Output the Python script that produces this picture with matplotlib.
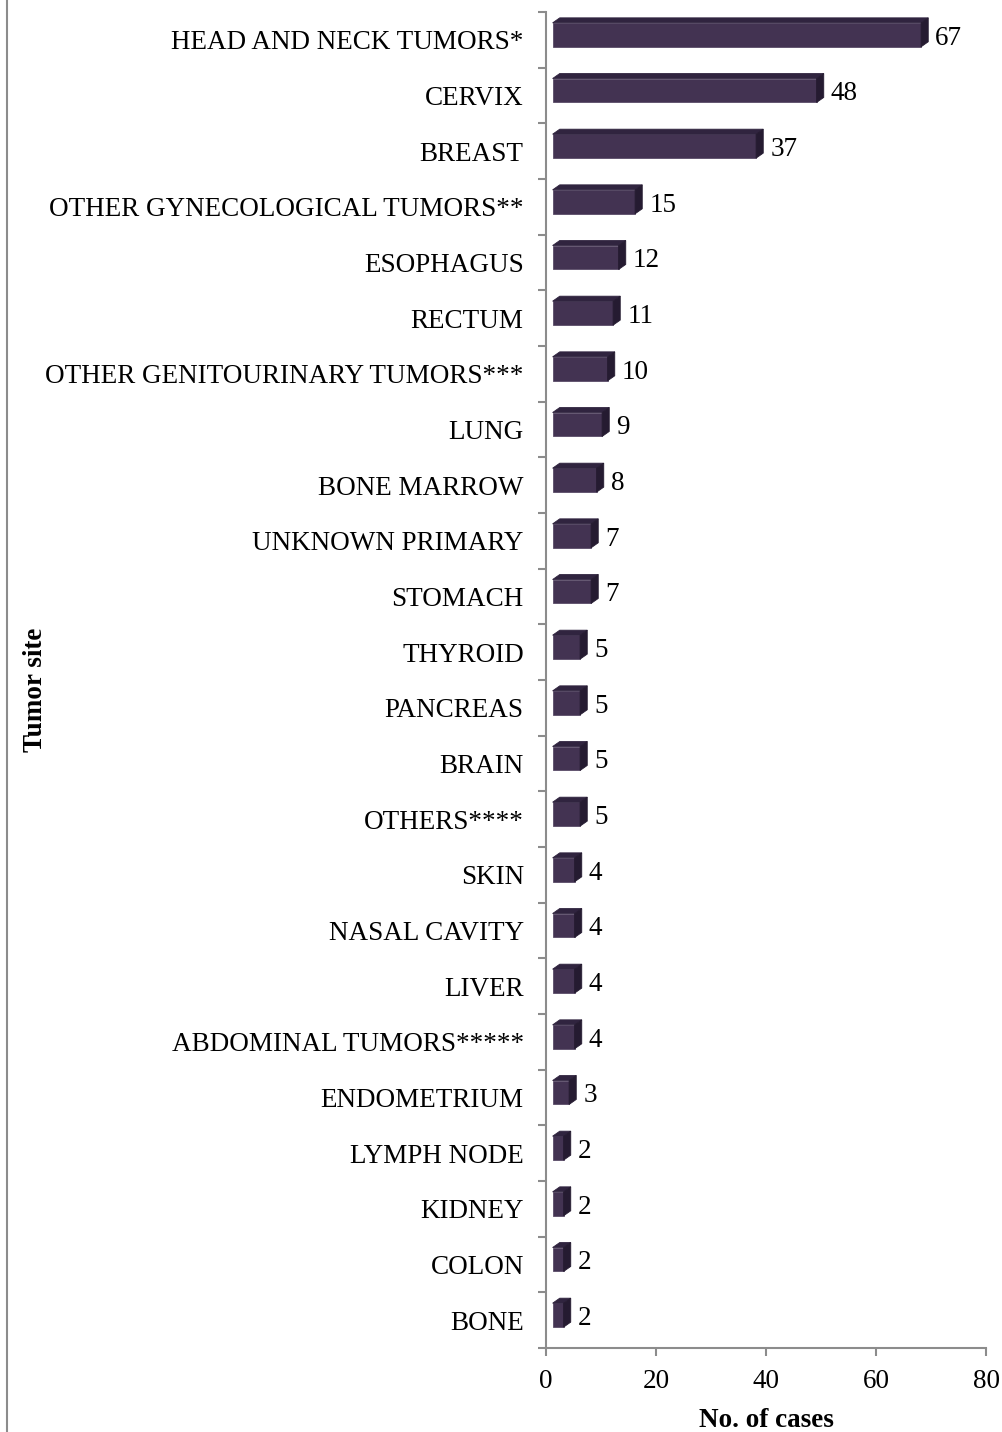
import matplotlib.pyplot as plt
from matplotlib.patches import Polygon
from matplotlib.lines import Line2D

plt.rcParams['font.family'] = ['Liberation Serif', 'DejaVu Serif']

# datos
sitios = ['HEAD AND NECK TUMORS*', 'CERVIX', 'BREAST', 'OTHER GYNECOLOGICAL TUMORS**',
          'ESOPHAGUS', 'RECTUM', 'OTHER GENITOURINARY TUMORS***', 'LUNG', 'BONE MARROW',
          'UNKNOWN PRIMARY', 'STOMACH', 'THYROID', 'PANCREAS', 'BRAIN', 'OTHERS****',
          'SKIN', 'NASAL CAVITY', 'LIVER', 'ABDOMINAL TUMORS*****', 'ENDOMETRIUM',
          'LYMPH NODE', 'KIDNEY', 'COLON', 'BONE']
casos = [67, 48, 37, 15, 12, 11, 10, 9, 8, 7, 7, 5, 5, 5, 5, 4, 4, 4, 4, 3, 2, 2, 2, 2]
x_ticks = [0, 20, 40, 60, 80]

fs = 19.5
fig = plt.figure(figsize=(10.02, 14.32), dpi=100)
ax = fig.add_axes([546 / 1002, 1 - 1348 / 1432, 440 / 1002, 1336 / 1432])

# estilo 3D tipo Excel
off = 1.2      # desplazamiento de la cara frontal (unidades x)
dx = 1.3       # profundidad en x
dy = 0.09      # profundidad en y (unidades de categoria)
h = 0.43       # altura de la cara frontal
c_front = '#433352'
c_top = '#30243f'
c_side = '#251b31'

for i, v in enumerate(casos):
    yc = i - 0.09
    y_top = yc - h / 2
    y_bot = yc + h / 2
    x0 = off
    x1 = off + v
    ax.add_patch(Polygon([(x0, y_bot), (x1, y_bot), (x1, y_top), (x0, y_top)],
                         closed=True, facecolor=c_front, edgecolor='#5a4c68', lw=0.6))
    ax.add_patch(Polygon([(x0, y_top), (x1, y_top), (x1 + dx, y_top - dy), (x0 + dx, y_top - dy)],
                         closed=True, facecolor=c_top, edgecolor=c_top, lw=0.6))
    ax.add_patch(Polygon([(x1, y_bot), (x1, y_top), (x1 + dx, y_top - dy), (x1 + dx, y_bot - dy)],
                         closed=True, facecolor=c_side, edgecolor=c_side, lw=0.6))
    ax.annotate(str(v), xy=(x1 + dx, i - 0.03), xytext=(5, 0), textcoords='offset points',
                ha='left', va='center', fontsize=fs, color='black')

ax.set_xlim(0, 80)
ax.set_ylim(len(sitios) - 0.5, -0.5)
ax.set_xticks(x_ticks)
ax.set_xticklabels([str(t) for t in x_ticks], fontsize=fs)
ax.set_yticks(range(len(sitios)))
ax.set_yticklabels(sitios, fontsize=fs)
ax.set_yticks([k - 0.5 for k in range(len(sitios) + 1)], minor=True)
ax.tick_params(axis='y', which='major', length=0, pad=16)
ax.tick_params(axis='y', which='minor', length=6, color='#8c8c8c', width=1.5)
ax.tick_params(axis='x', which='major', length=6, color='#8c8c8c', width=1.5, pad=9)

for s in ['top', 'right']:
    ax.spines[s].set_visible(False)
for s in ['left', 'bottom']:
    ax.spines[s].set_color('#8c8c8c')
    ax.spines[s].set_linewidth(1.5)

ax.set_xlabel('No. of cases', fontsize=fs, fontweight='bold', labelpad=10)
fig.text(35 / 1002, 1 - 690 / 1432, 'Tumor site', rotation=90, fontsize=fs,
         fontweight='bold', ha='center', va='center')

# borde gris a la izquierda
fig.add_artist(Line2D([7 / 1002, 7 / 1002], [0, 1], transform=fig.transFigure,
                      color='#8c8c8c', lw=1.5))

fig.savefig('out.png', dpi=100)
